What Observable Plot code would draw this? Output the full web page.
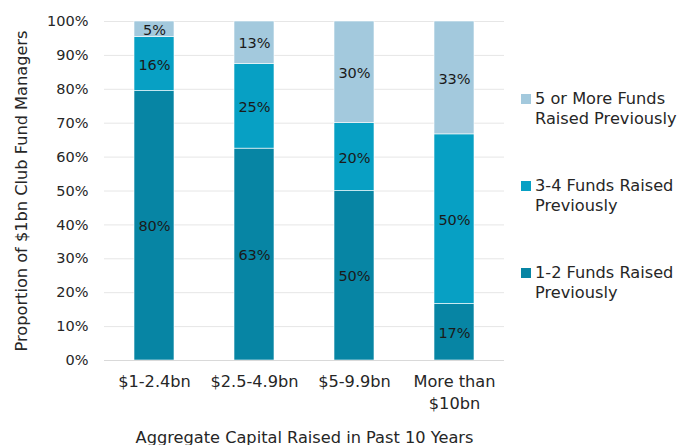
<!DOCTYPE html>
<html>
<head>
<meta charset="utf-8">
<script src="https://cdn.jsdelivr.net/npm/d3@7"></script>
<script src="https://cdn.jsdelivr.net/npm/@observablehq/plot@0.6"></script>
<style>
  body { margin: 0; background: #fff; }
  #wrap { position: relative; width: 688px; height: 445px; overflow: hidden; font-family: "DejaVu Sans", sans-serif; }
  #legend { position: absolute; left: 521px; top: 89px; font-size: 16.2px; color: #262626; line-height: 20px; }
  .item { position: relative; padding-left: 14px; margin-bottom: 47px; white-space: nowrap; }
  .sw { position: absolute; left: 0; top: 5px; width: 10px; height: 10px; }
</style>
</head>
<body>
<div id="wrap"><div id="chart"></div><div id="legend"></div></div>
<script>
const categories = ["$1-2.4bn", "$2.5-4.9bn", "$5-9.9bn", "More than\n$10bn"];
const seriesNames = ["1-2 Funds Raised Previously", "3-4 Funds Raised Previously", "5 or More Funds Raised Previously"];
const legendLabels = ["5 or More Funds<br>Raised Previously", "3-4 Funds Raised<br>Previously", "1-2 Funds Raised<br>Previously"];
const oneTwoFunds = [79.5, 62.5, 50, 16.7];
const threeFourFunds = [15.9, 25, 20, 50];
const fivePlusFunds = [4.6, 12.5, 30, 33.3];
const yTicks = [0, 10, 20, 30, 40, 50, 60, 70, 80, 90, 100];
const colors = ["#0785a4", "#07a0c4", "#a3c9dd"];

const seriesValues = [oneTwoFunds, threeFourFunds, fivePlusFunds];
const data = [];
seriesNames.forEach((s, si) => categories.forEach((c, ci) => data.push({cat: c, series: s, value: seriesValues[si][ci]})));

const font = "DejaVu Sans, sans-serif";
const chart = Plot.plot({
  width: 688,
  height: 445,
  marginLeft: 104,
  marginRight: 184,
  marginTop: 21,
  marginBottom: 85,
  style: {fontFamily: font, fontSize: "14.5px", color: "#262626", background: "white"},
  x: {domain: categories, paddingInner: 0.6, paddingOuter: 0.3},
  y: {domain: [0, 100]},
  color: {domain: seriesNames, range: colors},
  marks: [
    Plot.ruleY(yTicks.filter(d => d > 0), {stroke: "#e6e6e6", strokeWidth: 1}),
    Plot.barY(data, Plot.stackY({x: "cat", y: "value", z: "series", order: seriesNames, fill: "series", stroke: "white", strokeWidth: 0.6})),
    Plot.text(data, Plot.stackY({x: "cat", y: "value", z: "series", order: seriesNames, text: d => Math.round(d.value) + "%", fill: "#1a1a1a", fontSize: 14.5, dy: 1})),
    Plot.ruleY([0], {stroke: "#d9d9d9", strokeWidth: 1.2}),
    Plot.axisY({ticks: yTicks, tickFormat: d => d + "%", tickSize: 0, tickPadding: 16, label: null, fontSize: 14.5}),
    Plot.axisY({ticks: [], tickSize: 0, label: "Proportion of $1bn Club Fund Managers", labelAnchor: "center", labelArrow: "none", labelOffset: 89, fontSize: 16.2}),
    Plot.axisX({tickSize: 0, tickPadding: 11, lineHeight: 1.36, label: "Aggregate Capital Raised in Past 10 Years", labelAnchor: "center", labelArrow: "none", labelOffset: 82, fontSize: 16.2})
  ]
});
document.getElementById("chart").appendChild(chart);

const legend = document.getElementById("legend");
const legendColors = [colors[2], colors[1], colors[0]];
legendLabels.forEach((l, i) => {
  const div = document.createElement("div");
  div.className = "item";
  div.innerHTML = `<span class="sw" style="background:${legendColors[i]}"></span>${l}`;
  legend.appendChild(div);
});
</script>
</body>
</html>
